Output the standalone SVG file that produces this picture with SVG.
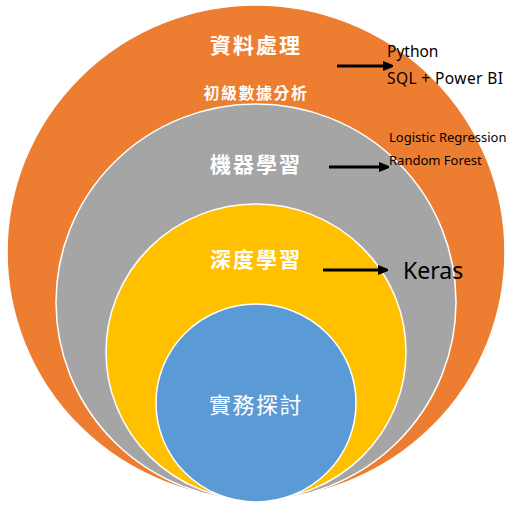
<svg xmlns="http://www.w3.org/2000/svg" width="510" height="510" viewBox="0 0 510 510">
<defs>
<style>
.ring{stroke:#fff;stroke-width:1.5}
.cn{font-family:"Noto Sans CJK TC","Noto Sans CJK SC",sans-serif;fill:#fff;text-anchor:middle}
.b{font-weight:bold}
.en{font-family:"Noto Sans","Open Sans",sans-serif;fill:#000}
.arr{stroke:#000;stroke-width:3;fill:none;marker-end:url(#ah)}
</style>
<marker id="ah" viewBox="0 0 10 10" refX="8" refY="5" markerWidth="3.6" markerHeight="3.4" orient="auto" markerUnits="strokeWidth">
<path d="M0,0 L10,4 Q10.5,5 10,6 L0,10 z" fill="#000"/>
</marker>
</defs>
<rect width="510" height="510" fill="#fff"/>
<g id="outer">
<ellipse class="ring" cx="256" cy="252" rx="249" ry="247" fill="#ED7D31"/>
<text class="cn b" x="256" y="53" font-size="21" letter-spacing="2">資料處理</text>
<text class="cn b" x="256" y="99" font-size="16" letter-spacing="1.5">初級數據分析</text>
</g>
<g id="ml">
<ellipse class="ring" cx="256" cy="302" rx="200" ry="198" fill="#A5A5A5"/>
<text class="cn b" x="256" y="172" font-size="21" letter-spacing="2">機器學習</text>
</g>
<g id="dl">
<ellipse class="ring" cx="256" cy="352" rx="150" ry="148" fill="#FFC000"/>
<text class="cn b" x="256" y="267" font-size="21" letter-spacing="2">深度學習</text>
</g>
<g id="practice">
<ellipse class="ring" cx="256" cy="403" rx="100" ry="99" fill="#5B9BD5"/>
<text class="cn" x="256" y="413" font-size="22" letter-spacing="1.5">實務探討</text>
</g>
<g id="connectors">
<line class="arr" x1="337" y1="66" x2="391" y2="66"/>
<line class="arr" x1="329" y1="167" x2="387" y2="167"/>
<line class="arr" x1="323" y1="270" x2="386" y2="270"/>
</g>
<g id="labels">
<text class="en" x="387" y="57" font-size="15.5">Python</text>
<text class="en" x="387" y="84" font-size="15.5" letter-spacing="0.4">SQL + Power BI</text>
<text class="en" x="389" y="142" font-size="13">Logistic Regression</text>
<text class="en" x="389" y="165" font-size="13">Random Forest</text>
<text class="en" x="403" y="279" font-size="23">Keras</text>
</g>
</svg>
